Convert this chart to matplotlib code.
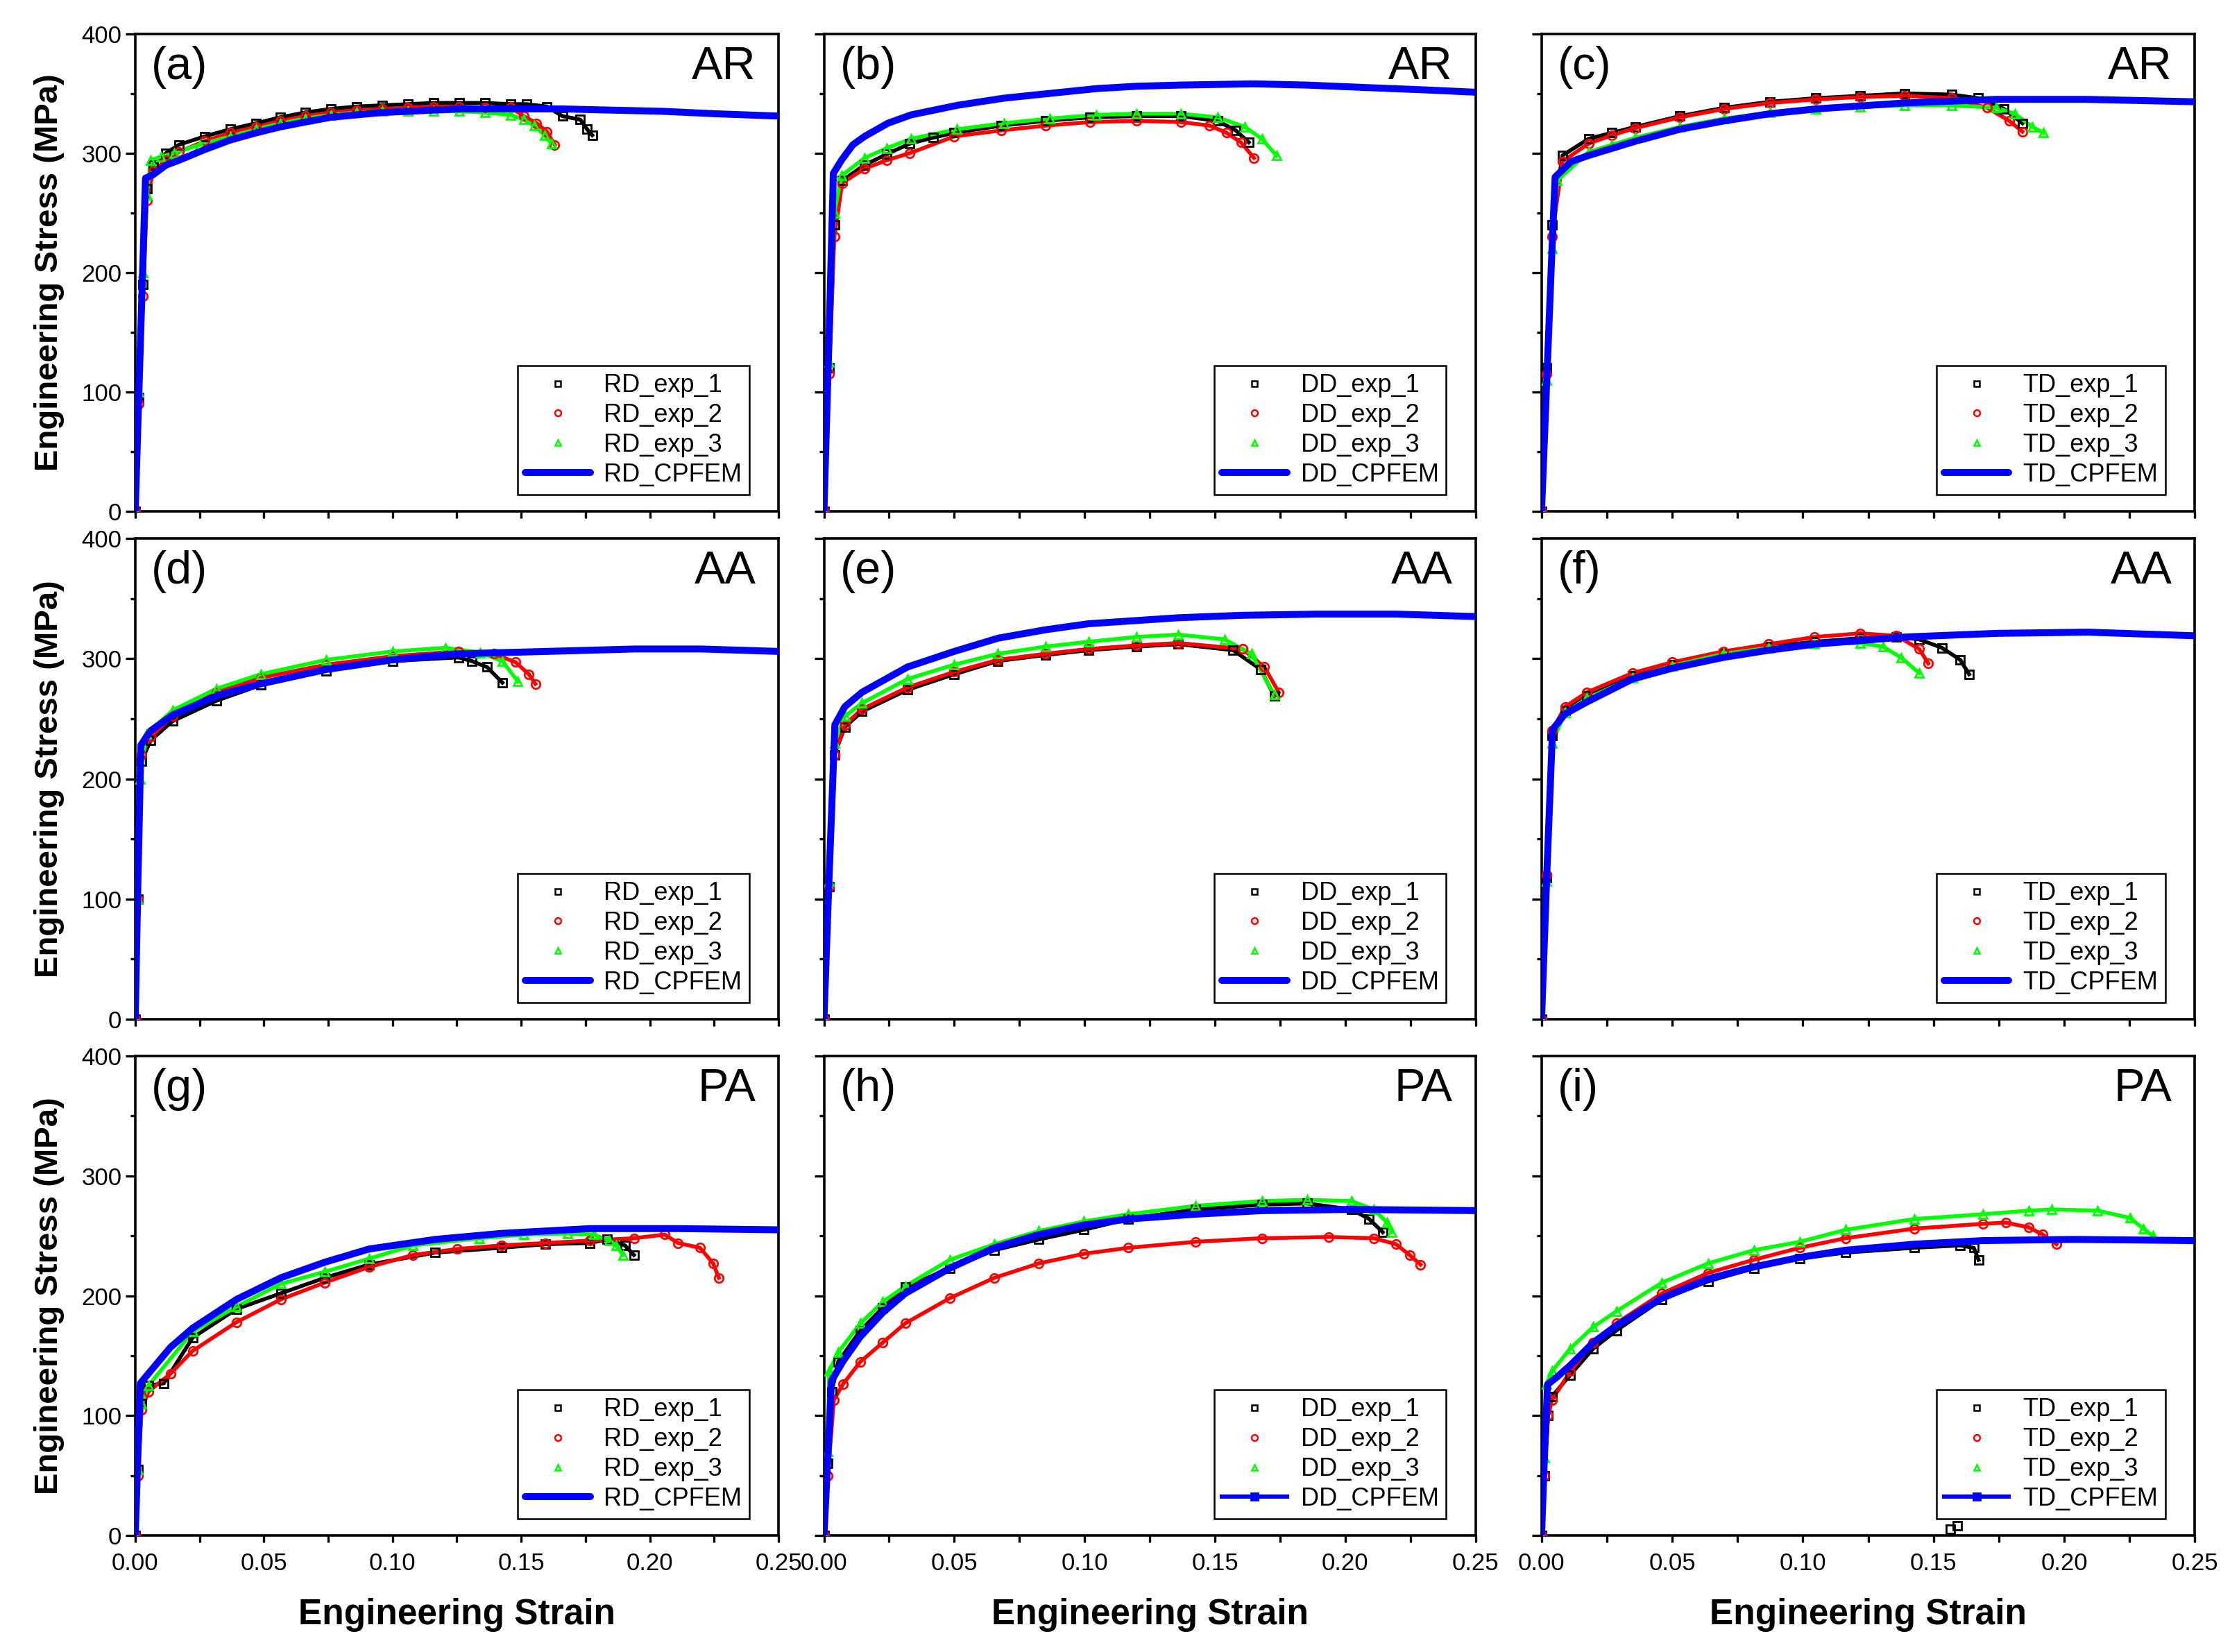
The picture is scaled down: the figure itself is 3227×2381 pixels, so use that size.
import matplotlib
matplotlib.use("Agg")
import matplotlib.pyplot as plt
from matplotlib.lines import Line2D
from matplotlib.ticker import MultipleLocator, FixedLocator

plt.rcParams['font.family'] = ['Liberation Sans', 'DejaVu Sans']

# ---- data (strain, stress in MPa) ----
# (a) RD, AR
a_e1_x = [0, 0.0015, 0.003, 0.0045, 0.007, 0.012, 0.017, 0.027, 0.037, 0.047, 0.0565, 0.066, 0.076, 0.086, 0.096, 0.106, 0.116, 0.126, 0.136, 0.146, 0.152, 0.160, 0.166, 0.173, 0.1756, 0.1776]
a_e1_y = [0, 95, 190, 270, 290, 300, 307, 314, 320, 325, 330, 334, 337, 339, 340, 341, 342, 342, 342, 341, 341, 339, 331, 328, 320, 315]
a_e2_x = [0, 0.0015, 0.003, 0.0045, 0.007, 0.012, 0.017, 0.027, 0.037, 0.047, 0.0565, 0.066, 0.076, 0.086, 0.096, 0.106, 0.116, 0.126, 0.136, 0.146, 0.151, 0.156, 0.160, 0.163]
a_e2_y = [0, 90, 180, 260, 285, 294, 301, 310, 317, 322, 327, 331, 334, 336, 337, 338, 339, 339, 338, 338, 331, 325, 318, 307]
a_e3_x = [0, 0.0015, 0.003, 0.0045, 0.006, 0.010, 0.015, 0.025, 0.037, 0.047, 0.0565, 0.066, 0.076, 0.086, 0.096, 0.106, 0.116, 0.126, 0.136, 0.146, 0.151, 0.155, 0.159, 0.1617]
a_e3_y = [0, 100, 200, 265, 294, 297, 300, 307, 314, 320, 325, 329, 332, 334, 335, 335, 335, 335, 334, 332, 328, 323, 315, 308]
a_fe_x = [0, 0.002, 0.0035, 0.004, 0.007, 0.012, 0.017, 0.027, 0.037, 0.047, 0.0565, 0.066, 0.076, 0.086, 0.096, 0.106, 0.126, 0.146, 0.166, 0.185, 0.205, 0.225, 0.25]
a_fe_y = [0, 140, 245, 279, 282, 290, 294, 303, 311, 317, 322, 326, 330, 332, 334, 335, 337, 337, 337, 336, 335, 333, 331]

# (b) DD, AR
b_e1_x = [0, 0.002, 0.004, 0.007, 0.0156, 0.024, 0.033, 0.042, 0.05, 0.068, 0.085, 0.102, 0.12, 0.137, 0.151, 0.158, 0.163]
b_e1_y = [0, 120, 240, 277, 290, 299, 308, 313, 317, 323, 327, 330, 331, 331, 327, 319, 309]
b_e2_x = [0, 0.002, 0.004, 0.007, 0.0156, 0.024, 0.033, 0.05, 0.068, 0.085, 0.102, 0.12, 0.137, 0.148, 0.1545, 0.16, 0.165]
b_e2_y = [0, 115, 230, 275, 287, 294, 300, 314, 319, 323, 326, 327, 326, 323, 317, 309, 296]
b_e3_x = [0, 0.002, 0.004, 0.0067, 0.0156, 0.024, 0.0334, 0.0511, 0.069, 0.0867, 0.1045, 0.12, 0.137, 0.151, 0.1615, 0.168, 0.1736]
b_e3_y = [0, 125, 250, 281, 296, 304, 312, 320, 325, 329, 332, 333, 333, 330, 322, 312, 298]
b_fe_x = [0, 0.002, 0.0036, 0.0067, 0.0111, 0.0156, 0.0245, 0.0334, 0.0511, 0.069, 0.0867, 0.1045, 0.12, 0.137, 0.165, 0.185, 0.207, 0.23, 0.25]
b_fe_y = [0, 150, 283, 294, 307, 314, 325, 332, 340, 346, 350, 354, 356, 357, 358, 357, 355, 353, 351]

# (c) TD, AR
c_e1_x = [0, 0.002, 0.004, 0.008, 0.018, 0.027, 0.036, 0.053, 0.07, 0.0875, 0.105, 0.122, 0.139, 0.157, 0.167, 0.177, 0.184]
c_e1_y = [0, 120, 240, 298, 312, 317, 322, 331, 338, 343, 346, 348, 350, 349, 346, 337, 325]
c_e2_x = [0, 0.002, 0.004, 0.008, 0.018, 0.027, 0.036, 0.053, 0.07, 0.0875, 0.105, 0.122, 0.139, 0.157, 0.1705, 0.179, 0.184]
c_e2_y = [0, 115, 230, 293, 308, 315, 321, 330, 337, 342, 345, 347, 348, 346, 338, 327, 318]
c_e3_x = [0, 0.002, 0.004, 0.006, 0.018, 0.027, 0.036, 0.053, 0.07, 0.0875, 0.105, 0.122, 0.139, 0.157, 0.174, 0.181, 0.1878, 0.192]
c_e3_y = [0, 110, 220, 277, 301, 307, 313, 322, 329, 334, 337, 339, 340, 340, 338, 333, 322, 317]
c_fe_x = [0, 0.002, 0.004, 0.0052, 0.0114, 0.018, 0.036, 0.053, 0.07, 0.0875, 0.105, 0.139, 0.174, 0.2085, 0.25]
c_fe_y = [0, 110, 220, 280, 293, 298, 310, 320, 327, 333, 337, 342, 345, 345, 343]

# (d) RD, AA
d_e1_x = [0, 0.001, 0.0025, 0.006, 0.0145, 0.0316, 0.0487, 0.0743, 0.1, 0.1256, 0.1307, 0.1367, 0.1427]
d_e1_y = [0, 100, 215, 232, 248, 265, 278, 290, 298, 301, 298, 293, 280]
d_e2_x = [0, 0.001, 0.0025, 0.006, 0.0145, 0.0316, 0.0487, 0.0743, 0.1, 0.1256, 0.1393, 0.1478, 0.153, 0.1555]
d_e2_y = [0, 100, 220, 235, 252, 272, 284, 295, 302, 306, 304, 297, 287, 279]
d_e3_x = [0, 0.001, 0.002, 0.0043, 0.0145, 0.0316, 0.0487, 0.0743, 0.1, 0.1205, 0.134, 0.1427, 0.1487]
d_e3_y = [0, 100, 200, 237, 257, 275, 287, 299, 306, 309, 305, 298, 281]
d_fe_x = [0, 0.001, 0.0022, 0.006, 0.0145, 0.0316, 0.0487, 0.0743, 0.1, 0.1256, 0.16, 0.194, 0.22, 0.25]
d_fe_y = [0, 110, 228, 240, 253, 269, 279, 291, 299, 304, 306, 308, 308, 306]

# (e) DD, AA
e_e1_x = [0, 0.002, 0.004, 0.008, 0.0146, 0.032, 0.05, 0.0668, 0.085, 0.1015, 0.12, 0.136, 0.157, 0.1676, 0.1728]
e_e1_y = [0, 110, 220, 243, 256, 274, 287, 298, 303, 307, 310, 312, 307, 291, 269]
e_e2_x = [0, 0.002, 0.004, 0.008, 0.0146, 0.032, 0.05, 0.0668, 0.085, 0.1015, 0.12, 0.136, 0.1606, 0.169, 0.1745]
e_e2_y = [0, 110, 220, 245, 258, 276, 289, 299, 304, 308, 311, 313, 308, 293, 272]
e_e3_x = [0, 0.002, 0.004, 0.008, 0.0146, 0.032, 0.05, 0.0668, 0.085, 0.1015, 0.12, 0.136, 0.1537, 0.164, 0.1728]
e_e3_y = [0, 115, 230, 252, 263, 283, 295, 304, 310, 314, 318, 320, 316, 304, 270]
e_fe_x = [0, 0.002, 0.0042, 0.008, 0.0146, 0.032, 0.05, 0.0668, 0.085, 0.1015, 0.136, 0.16, 0.1885, 0.22, 0.25]
e_fe_y = [0, 120, 245, 260, 272, 293, 306, 317, 324, 329, 334, 336, 337, 337, 335]

# (f) TD, AA
f_e1_x = [0, 0.002, 0.004, 0.009, 0.0174, 0.0348, 0.05, 0.0696, 0.087, 0.1045, 0.1219, 0.1358, 0.1445, 0.1532, 0.1602, 0.1636]
f_e1_y = [0, 118, 236, 257, 269, 286, 295, 304, 310, 314, 317, 318, 316, 309, 299, 287]
f_e2_x = [0, 0.002, 0.004, 0.009, 0.0174, 0.0348, 0.05, 0.0696, 0.087, 0.1045, 0.1219, 0.1358, 0.1445, 0.148]
f_e2_y = [0, 120, 240, 260, 272, 288, 297, 306, 312, 318, 321, 319, 308, 296]
f_e3_x = [0, 0.002, 0.004, 0.009, 0.0174, 0.0348, 0.05, 0.0696, 0.087, 0.1045, 0.1219, 0.1306, 0.1375, 0.1445]
f_e3_y = [0, 115, 230, 255, 267, 284, 294, 304, 309, 312, 313, 310, 301, 288]
f_fe_x = [0, 0.002, 0.0042, 0.009, 0.0174, 0.0348, 0.05, 0.0696, 0.087, 0.1045, 0.1393, 0.1741, 0.209, 0.25]
f_fe_y = [0, 120, 241, 254, 264, 283, 292, 301, 307, 312, 318, 321, 322, 319]

# (g) RD, PA
g_e1_x = [0, 0.001, 0.0025, 0.0051, 0.0111, 0.0223, 0.0394, 0.0566, 0.0737, 0.0909, 0.1166, 0.1423, 0.1595, 0.1766, 0.1835, 0.1903, 0.1938]
g_e1_y = [0, 55, 110, 125, 127, 165, 189, 202, 215, 226, 236, 240, 243, 244, 247, 242, 234]
g_e2_x = [0, 0.001, 0.0025, 0.0051, 0.0137, 0.0223, 0.0394, 0.0566, 0.0737, 0.0909, 0.108, 0.1252, 0.1423, 0.1595, 0.1766, 0.1938, 0.2058, 0.2109, 0.2195, 0.2246, 0.2268]
g_e2_y = [0, 50, 105, 120, 135, 154, 178, 197, 211, 224, 234, 239, 242, 244, 246, 248, 251, 244, 240, 227, 215]
g_e3_x = [0, 0.001, 0.0025, 0.0051, 0.0223, 0.0394, 0.0566, 0.0737, 0.0909, 0.108, 0.1337, 0.1509, 0.168, 0.1783, 0.1843, 0.1869, 0.1895]
g_e3_y = [0, 55, 110, 125, 170, 191, 210, 220, 231, 242, 248, 251, 252, 251, 246, 242, 234]
g_fe_x = [0, 0.001, 0.002, 0.0051, 0.0137, 0.0223, 0.0394, 0.0566, 0.0737, 0.0909, 0.1166, 0.1423, 0.1766, 0.2109, 0.25]
g_fe_y = [0, 65, 127, 135, 157, 173, 197, 215, 228, 239, 247, 252, 256, 256, 255]

# (h) DD, PA
h_e1_x = [0, 0.0015, 0.003, 0.0055, 0.014, 0.0226, 0.0312, 0.0483, 0.0654, 0.0825, 0.0997, 0.1168, 0.1425, 0.168, 0.1853, 0.2024, 0.2092, 0.2144]
h_e1_y = [0, 60, 120, 145, 171, 190, 207, 223, 238, 247, 255, 264, 272, 276, 277, 272, 264, 253]
h_e2_x = [0, 0.0015, 0.0038, 0.0072, 0.014, 0.0226, 0.0312, 0.0483, 0.0654, 0.0825, 0.0997, 0.1168, 0.1425, 0.168, 0.1938, 0.211, 0.2195, 0.2247, 0.2289]
h_e2_y = [0, 50, 113, 126, 145, 161, 177, 198, 215, 227, 235, 240, 245, 248, 249, 248, 243, 234, 226]
h_e3_x = [0, 0.0015, 0.002, 0.0055, 0.014, 0.0226, 0.0312, 0.0483, 0.0654, 0.0825, 0.0997, 0.1168, 0.1425, 0.168, 0.1853, 0.2024, 0.211, 0.2161, 0.2178]
h_e3_y = [0, 70, 137, 153, 177, 195, 208, 230, 243, 254, 262, 268, 275, 279, 280, 279, 272, 261, 253]
h_fe_x = [0, 0.0015, 0.0029, 0.0072, 0.014, 0.0226, 0.0312, 0.0483, 0.0654, 0.0825, 0.0997, 0.1168, 0.1425, 0.168, 0.2024, 0.25]
h_fe_y = [0, 65, 129, 145, 166, 186, 202, 223, 240, 251, 259, 264, 268, 271, 272, 271]

# (i) TD, PA
i_e1_x = [0, 0.001, 0.0025, 0.004, 0.011, 0.0198, 0.0286, 0.0461, 0.0637, 0.0812, 0.0988, 0.1163, 0.1426, 0.1602, 0.1654, 0.1672]
i_e1_y = [0, 50, 100, 116, 134, 156, 171, 197, 212, 223, 231, 236, 240, 242, 240, 230]
i_e1_out_x = [0.1563, 0.159]
i_e1_out_y = [5, 8]
i_e2_x = [0, 0.001, 0.0025, 0.004, 0.011, 0.0198, 0.0286, 0.0461, 0.0637, 0.0812, 0.0988, 0.1163, 0.1426, 0.1689, 0.1777, 0.1865, 0.1918, 0.197]
i_e2_y = [0, 50, 100, 113, 137, 161, 177, 202, 219, 230, 240, 248, 256, 260, 261, 257, 251, 243]
i_e3_x = [0, 0.001, 0.0019, 0.004, 0.011, 0.0198, 0.0286, 0.0461, 0.0637, 0.0812, 0.0988, 0.1163, 0.1426, 0.1689, 0.1865, 0.1953, 0.2128, 0.2251, 0.2303, 0.2339]
i_e3_y = [0, 65, 126, 137, 156, 174, 187, 211, 227, 238, 245, 255, 264, 268, 271, 272, 271, 265, 256, 250]
i_fe_x = [0, 0.001, 0.0023, 0.0058, 0.011, 0.0198, 0.0286, 0.0461, 0.0637, 0.0812, 0.0988, 0.1163, 0.1426, 0.1689, 0.204, 0.25]
i_fe_y = [0, 60, 126, 132, 142, 161, 175, 198, 214, 224, 232, 238, 243, 246, 247, 246]

panel_letters = ['(a)', '(b)', '(c)', '(d)', '(e)', '(f)', '(g)', '(h)', '(i)']
conditions = ['AR', 'AR', 'AR', 'AA', 'AA', 'AA', 'PA', 'PA', 'PA']
directions = ['RD', 'DD', 'TD']
x_ticks = [0.00, 0.05, 0.10, 0.15, 0.20, 0.25]
x_ticklabels = ['0.00', '0.05', '0.10', '0.15', '0.20', '0.25']
y_ticks = [0, 100, 200, 300, 400]

panels = [
    (a_e1_x, a_e1_y, a_e2_x, a_e2_y, a_e3_x, a_e3_y, a_fe_x, a_fe_y),
    (b_e1_x, b_e1_y, b_e2_x, b_e2_y, b_e3_x, b_e3_y, b_fe_x, b_fe_y),
    (c_e1_x, c_e1_y, c_e2_x, c_e2_y, c_e3_x, c_e3_y, c_fe_x, c_fe_y),
    (d_e1_x, d_e1_y, d_e2_x, d_e2_y, d_e3_x, d_e3_y, d_fe_x, d_fe_y),
    (e_e1_x, e_e1_y, e_e2_x, e_e2_y, e_e3_x, e_e3_y, e_fe_x, e_fe_y),
    (f_e1_x, f_e1_y, f_e2_x, f_e2_y, f_e3_x, f_e3_y, f_fe_x, f_fe_y),
    (g_e1_x, g_e1_y, g_e2_x, g_e2_y, g_e3_x, g_e3_y, g_fe_x, g_fe_y),
    (h_e1_x, h_e1_y, h_e2_x, h_e2_y, h_e3_x, h_e3_y, h_fe_x, h_fe_y),
    (i_e1_x, i_e1_y, i_e2_x, i_e2_y, i_e3_x, i_e3_y, i_fe_x, i_fe_y),
]

exp_colors = ['#000000', '#ff0000', '#00ff00']
exp_markers = ['s', 'o', '^']
blue = '#0000ff'

col_left = [0.0604, 0.3680, 0.6885]
col_width = [0.2873, 0.2910, 0.2918]
row_bottom = [0.6905, 0.3830, 0.0705]
row_height = [0.2891, 0.2911, 0.2903]

fig = plt.figure(figsize=(16.135, 11.905), dpi=200)

for k, data in enumerate(panels):
    r, c = divmod(k, 3)
    ax = fig.add_axes([col_left[c], row_bottom[r], col_width[c], row_height[r]])

    # experimental curves: a band of open markers
    for j in range(3):
        xs, ys = data[2 * j], data[2 * j + 1]
        ax.plot(xs, ys, '-', color=exp_colors[j], lw=2.0, zorder=2)
        ax.plot(xs, ys, ls='none', marker=exp_markers[j], ms=4.5, mfc='none',
                mec=exp_colors[j], mew=1.0, zorder=3)
    if k == 8:
        ax.plot(i_e1_out_x, i_e1_out_y, ls='none', marker='s', ms=4.5, mfc='none',
                mec='#000000', mew=1.0, zorder=3)
    # CPFEM prediction
    ax.plot(data[6], data[7], '-', color=blue, lw=3.6, solid_capstyle='butt', zorder=4)

    ax.set_xlim(0, 0.25)
    ax.set_ylim(0, 400)
    ax.xaxis.set_major_locator(FixedLocator(x_ticks))
    ax.xaxis.set_minor_locator(MultipleLocator(0.025))
    ax.yaxis.set_major_locator(FixedLocator(y_ticks))
    ax.yaxis.set_minor_locator(MultipleLocator(50))
    ax.tick_params(axis='both', which='both', direction='out', width=1.2,
                   labelsize=12.5, top=False, right=False)
    ax.tick_params(axis='x', which='both', length=3.5, pad=5)
    ax.tick_params(axis='y', which='major', length=5, pad=2)
    ax.tick_params(axis='y', which='minor', length=2.5)
    for sp in ax.spines.values():
        sp.set_linewidth(1.3)

    if r == 2:
        ax.set_xticklabels(x_ticklabels)
        ax.set_xlabel('Engineering Strain', fontsize=18.5, fontweight='bold')
        ax.xaxis.set_label_coords(0.5, -0.13)
    else:
        ax.set_xticklabels([])
    if c == 0:
        ax.set_yticklabels([str(v) for v in y_ticks])
        ax.set_ylabel('Engineering Stress (MPa)', fontsize=17, fontweight='bold')
        ax.yaxis.set_label_coords(-0.11, 0.5)
    else:
        ax.set_yticklabels([])

    ax.text(0.025, 0.975, panel_letters[k], transform=ax.transAxes,
            fontsize=24, ha='left', va='top')
    ax.text(0.965, 0.975, conditions[k], transform=ax.transAxes,
            fontsize=24, ha='right', va='top')

    d = directions[c]
    handles = [Line2D([], [], ls='none', marker=exp_markers[j], ms=3.2, mfc='none',
                      mec=exp_colors[j], mew=0.9) for j in range(3)]
    if k in (7, 8):
        fe_handle = Line2D([], [], color=blue, lw=2.2, marker='s', ms=3.5,
                           mfc=blue, mec=blue)
    elif k in (4, 5):
        fe_handle = Line2D([], [], color=blue, lw=3.6, marker='s', ms=2.5,
                           mfc=blue, mec=blue, solid_capstyle='round')
    else:
        fe_handle = Line2D([], [], color=blue, lw=3.6, solid_capstyle='round')
    handles.append(fe_handle)
    labels = [d + '_exp_1', d + '_exp_2', d + '_exp_3', d + '_CPFEM']
    leg = ax.legend(handles, labels, loc='lower right', bbox_to_anchor=(0.955, 0.035),
                    borderaxespad=0, fontsize=13, frameon=True, fancybox=False,
                    edgecolor='black', framealpha=1, handlelength=2.6,
                    handletextpad=0.55, borderpad=0.3, labelspacing=0.22,
                    numpoints=1)
    leg.get_frame().set_linewidth(0.9)

fig.savefig('out.png', dpi=200)
